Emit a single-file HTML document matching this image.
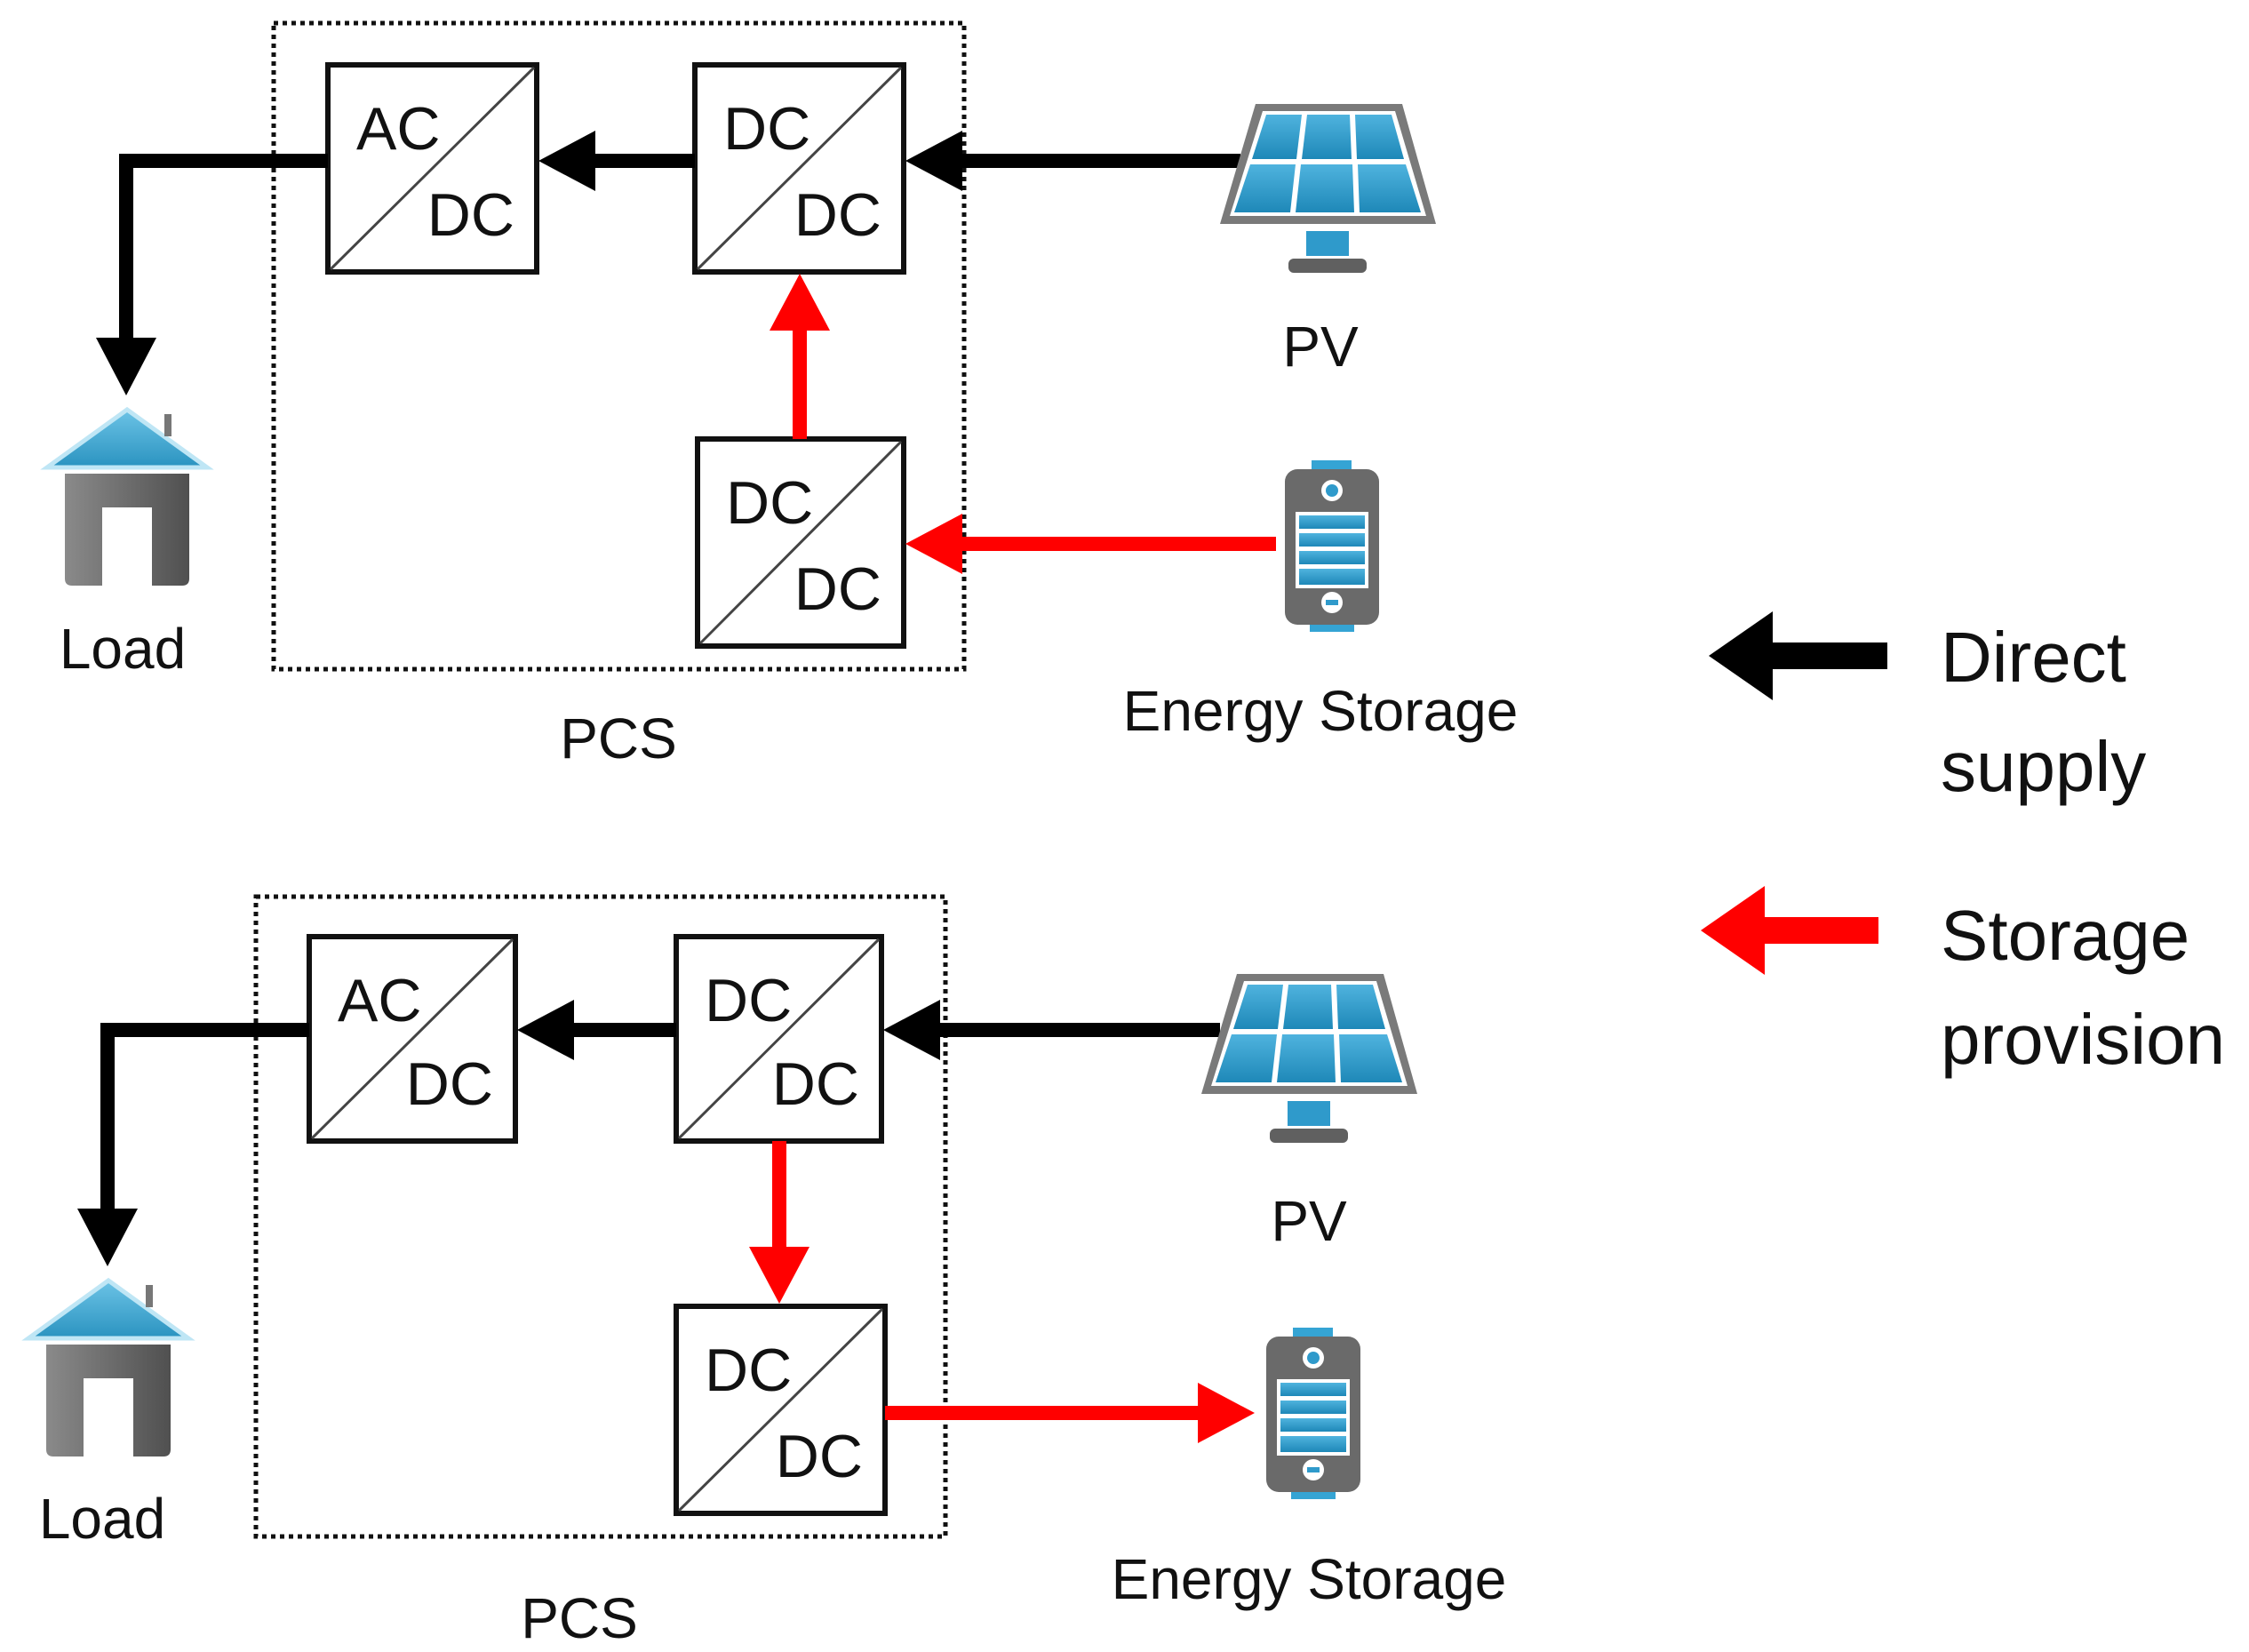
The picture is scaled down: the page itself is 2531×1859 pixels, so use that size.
<!DOCTYPE html>
<html><head><meta charset="utf-8"><style>
html,body{margin:0;padding:0;background:#fff;}
svg{display:block;}
text{font-family:"Liberation Sans",sans-serif;fill:#111;}
</style></head><body>
<svg width="2531" height="1859" viewBox="0 0 2531 1859" xmlns="http://www.w3.org/2000/svg">
<defs>
<linearGradient id="roof" x1="0" y1="0" x2="0" y2="1"><stop offset="0" stop-color="#6cc3e6"/><stop offset="1" stop-color="#2a93c0"/></linearGradient>
<linearGradient id="body" x1="0" y1="0" x2="1" y2="0"><stop offset="0" stop-color="#8a8a8a"/><stop offset="1" stop-color="#505050"/></linearGradient>
<linearGradient id="cell" x1="0" y1="0" x2="0" y2="1"><stop offset="0" stop-color="#4fb3de"/><stop offset="1" stop-color="#1e88b8"/></linearGradient>
<g id="house">
<polygon points="0,65 90,0 180,65" fill="url(#roof)" stroke="#bfe6f5" stroke-width="5"/>
<rect x="132" y="5" width="8" height="25" fill="#777"/>
<path d="M20,72 H160 V190 Q160,198 152,198 H118 V110 H62 V198 H28 Q20,198 20,190 Z" fill="url(#body)"/>
</g>
<g id="pv">
<polygon points="40,0 205,0 243,135 0,135" fill="#7a7a7a"/>
<polygon points="48,8 197,8 232,126 11,126" fill="#fff"/>
<polygon points="52,12 92,12 86,62 36,62" fill="url(#cell)"/>
<polygon points="98,12 146,12 148,62 92,62" fill="url(#cell)"/>
<polygon points="152,12 193,12 207,62 154,62" fill="url(#cell)"/>
<polygon points="34,68 85,68 79,122 16,122" fill="url(#cell)"/>
<polygon points="91,68 149,68 151,122 85,122" fill="url(#cell)"/>
<polygon points="155,68 209,68 226,122 157,122" fill="url(#cell)"/>
<rect x="97" y="143" width="48" height="28" fill="#2f9acb"/>
<rect x="77" y="174" width="88" height="16" rx="6" fill="#606060"/>
</g>
<g id="bat">
<rect x="30" y="0" width="45" height="10" fill="#35a4d4"/>
<rect x="0" y="10" width="106" height="175" rx="14" fill="#6a6a6a"/>
<circle cx="53" cy="34" r="12" fill="#fff"/><circle cx="53" cy="34" r="7" fill="#2f9acb"/>
<circle cx="53" cy="160" r="12" fill="#fff"/><rect x="46" y="157" width="14" height="6" fill="#2f9acb"/>
<rect x="12" y="58" width="82" height="86" fill="#fff"/>
<rect x="16" y="62" width="74" height="15" fill="url(#cell)"/>
<rect x="16" y="82" width="74" height="15" fill="url(#cell)"/>
<rect x="16" y="102" width="74" height="15" fill="url(#cell)"/>
<rect x="16" y="122" width="74" height="18" fill="url(#cell)"/>
<rect x="28" y="185" width="50" height="8" fill="#35a4d4"/>
</g>
</defs>

<rect x="308" y="26" width="777" height="727" fill="none" stroke="#111" stroke-width="5" stroke-dasharray="5 5"/>
<rect x="288" y="1009" width="776" height="720" fill="none" stroke="#111" stroke-width="5" stroke-dasharray="5 5"/>
<g stroke="#111" stroke-width="6" fill="#fff">
<rect x="369" y="73" width="235" height="233"/>
<rect x="782" y="73" width="235" height="233"/>
<rect x="785" y="494" width="232" height="233"/>
<rect x="348" y="1054" width="232" height="230"/>
<rect x="761" y="1054" width="231" height="230"/>
<rect x="761" y="1470" width="235" height="233"/>
</g>
<g stroke="#444" stroke-width="3">
<line x1="372" y1="303" x2="601" y2="76"/>
<line x1="785" y1="303" x2="1014" y2="76"/>
<line x1="788" y1="724" x2="1014" y2="497"/>
<line x1="351" y1="1281" x2="577" y2="1057"/>
<line x1="764" y1="1281" x2="989" y2="1057"/>
<line x1="764" y1="1700" x2="993" y2="1473"/>
</g>
<g font-size="68">
<text x="401" y="168">AC</text><text x="579" y="265" text-anchor="end">DC</text>
<text x="814" y="168">DC</text><text x="992" y="265" text-anchor="end">DC</text>
<text x="817" y="589">DC</text><text x="992" y="686" text-anchor="end">DC</text>
<text x="380" y="1149">AC</text><text x="555" y="1243" text-anchor="end">DC</text>
<text x="793" y="1149">DC</text><text x="967" y="1243" text-anchor="end">DC</text>
<text x="793" y="1565">DC</text><text x="971" y="1662" text-anchor="end">DC</text>
</g>

<g fill="none" stroke-width="16">
<line x1="1396" y1="181" x2="1075" y2="181" stroke="#000"/>
<line x1="782" y1="181" x2="662" y2="181" stroke="#000"/>
<path d="M369,181 H142 V385" stroke="#000"/>
<line x1="900" y1="494" x2="900" y2="365" stroke="#f00"/>
<line x1="1436" y1="612" x2="1075" y2="612" stroke="#f00"/>
<line x1="1373" y1="1159" x2="1050" y2="1159" stroke="#000"/>
<line x1="761" y1="1159" x2="640" y2="1159" stroke="#000"/>
<path d="M348,1159 H121 V1365" stroke="#000"/>
<line x1="877" y1="1284" x2="877" y2="1410" stroke="#f00"/>
<line x1="996" y1="1590" x2="1355" y2="1590" stroke="#f00"/>
</g>
<g>
<polygon points="1019,181 1083,147 1083,215" fill="#000"/>
<polygon points="606,181 670,147 670,215" fill="#000"/>
<polygon points="142,445 108,380 176,380" fill="#000"/>
<polygon points="900,308 866,372 934,372" fill="#f00"/>
<polygon points="1019,612 1083,578 1083,646" fill="#f00"/>
<polygon points="994,1159 1058,1125 1058,1193" fill="#000"/>
<polygon points="582,1159 646,1125 646,1193" fill="#000"/>
<polygon points="121,1425 87,1360 155,1360" fill="#000"/>
<polygon points="877,1467 843,1403 911,1403" fill="#f00"/>
<polygon points="1412,1590 1348,1556 1348,1624" fill="#f00"/>
</g>

<use href="#house" x="53" y="461"/>
<use href="#house" x="32" y="1441"/>
<use href="#pv" x="1373" y="117"/>
<use href="#pv" x="1352" y="1096"/>
<use href="#bat" x="1446" y="518"/>
<use href="#bat" x="1425" y="1494"/>

<g font-size="64" text-anchor="middle">
<text x="138" y="752">Load</text>
<text x="115" y="1731">Load</text>
<text x="696" y="853">PCS</text>
<text x="652" y="1843">PCS</text>
<text x="1486" y="412">PV</text>
<text x="1473" y="1396">PV</text>
<text x="1486" y="822">Energy Storage</text>
<text x="1473" y="1799">Energy Storage</text>
</g>

<line x1="1990" y1="738" x2="2124" y2="738" stroke="#000" stroke-width="30"/>
<polygon points="1923,738 1995,688 1995,788" fill="#000"/>
<line x1="1980" y1="1047" x2="2114" y2="1047" stroke="#f00" stroke-width="30"/>
<polygon points="1914,1047 1986,997 1986,1097" fill="#f00"/>
<g font-size="80">
<text x="2184" y="767">Direct</text>
<text x="2184" y="890">supply</text>
<text x="2184" y="1080">Storage</text>
<text x="2184" y="1197">provision</text>
</g>
</svg>
</body></html>
